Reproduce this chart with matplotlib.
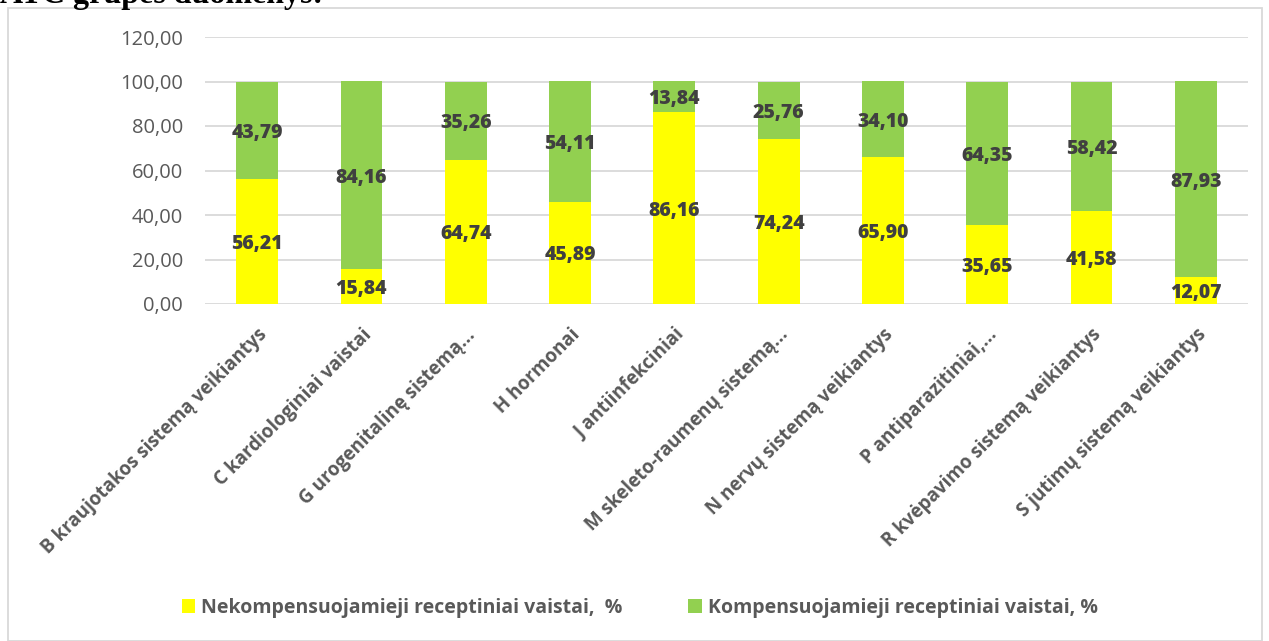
import matplotlib
matplotlib.use("Agg")
import matplotlib.pyplot as plt
from matplotlib.patches import Rectangle
from matplotlib.ticker import FuncFormatter

categories = [
    "B kraujotakos sistemą veikiantys",
    "C kardiologiniai vaistai",
    "G urogenitalinę sistemą...",
    "H hormonai",
    "J antiinfekciniai",
    "M skeleto-raumenų sistemą...",
    "N nervų sistemą veikiantys",
    "P antiparazitiniai,...",
    "R kvėpavimo sistemą veikiantys",
    "S jutimų sistemą veikiantys",
]
nekomp = [56.21, 15.84, 64.74, 45.89, 86.16, 74.24, 65.90, 35.65, 41.58, 12.07]
komp = [43.79, 84.16, 35.26, 54.11, 13.84, 25.76, 34.10, 64.35, 58.42, 87.93]
series_names = ["Nekompensuojamieji receptiniai vaistai,  %",
                "Kompensuojamieji receptiniai vaistai, %"]
yticks = [0, 20, 40, 60, 80, 100, 120]

YELLOW = "#FFFF00"
GREEN = "#92D050"
LABEL = "#404040"
TICK = "#595959"
FONT = "Open Sans"

fig = plt.figure(figsize=(12.69, 6.41), dpi=100)
W, H = 1269, 641
ax = fig.add_axes([205 / W, 1 - 304 / H, (1248 - 205) / W, (304 - 37) / H])

x = list(range(len(categories)))
b1 = ax.bar(x, nekomp, width=0.4, color=YELLOW, zorder=3)
b2 = ax.bar(x, komp, width=0.4, bottom=nekomp, color=GREEN, zorder=3)

def fmt(v):
    return f"{v:.2f}".replace(".", ",")

for xi, a, b in zip(x, nekomp, komp):
    ax.text(xi, a / 2, fmt(a), ha="center", va="center_baseline", fontsize=14,
            fontweight="heavy", color=LABEL, family=FONT, zorder=4)
    ax.text(xi, a + b / 2, fmt(b), ha="center", va="center_baseline", fontsize=14,
            fontweight="heavy", color=LABEL, family=FONT, zorder=4)

ax.set_xlim(-0.5, len(categories) - 0.5)
ax.set_ylim(0, 120)
ax.set_yticks(yticks)
ax.yaxis.set_major_formatter(FuncFormatter(lambda v, p: fmt(v)))
ax.grid(axis="y", color="#D9D9D9", linewidth=1.3, zorder=0)
for s in ax.spines.values():
    s.set_visible(False)
ax.tick_params(axis="y", length=0, pad=16, labelsize=14.5, labelcolor=TICK)
ax.tick_params(axis="x", length=0, pad=15)
for lab in ax.get_yticklabels():
    lab.set_family(FONT)

ax.set_xticks(x)
ax.set_xticklabels(categories, rotation=45, ha="right", va="top",
                   rotation_mode="anchor", fontsize=13.5, fontweight="bold",
                   color=TICK, family=FONT)

leg = fig.legend([b1, b2], series_names, loc="center left",
                 bbox_to_anchor=(164 / W, 1 - 608 / H),
                 ncol=2, frameon=False, handlelength=0.7, handleheight=0.7,
                 handletextpad=0.3, columnspacing=3.4,
                 prop={"family": FONT, "weight": "bold", "size": 14})
for t in leg.get_texts():
    t.set_color(TICK)

# chart area border
fig.patches.append(Rectangle((8 / W, 0), (1262 - 8) / W, 1 - 8 / H,
                             transform=fig.transFigure, fill=False,
                             edgecolor="#D9D9D9", linewidth=1.3))

# cropped heading above the chart
fig.text(0 / W, 1 - 3 / H, "ATC grupės duomenys:", ha="left", va="baseline",
         fontsize=23, fontweight="bold", family="Liberation Serif", color="black")

fig.savefig("out.png", dpi=100)
